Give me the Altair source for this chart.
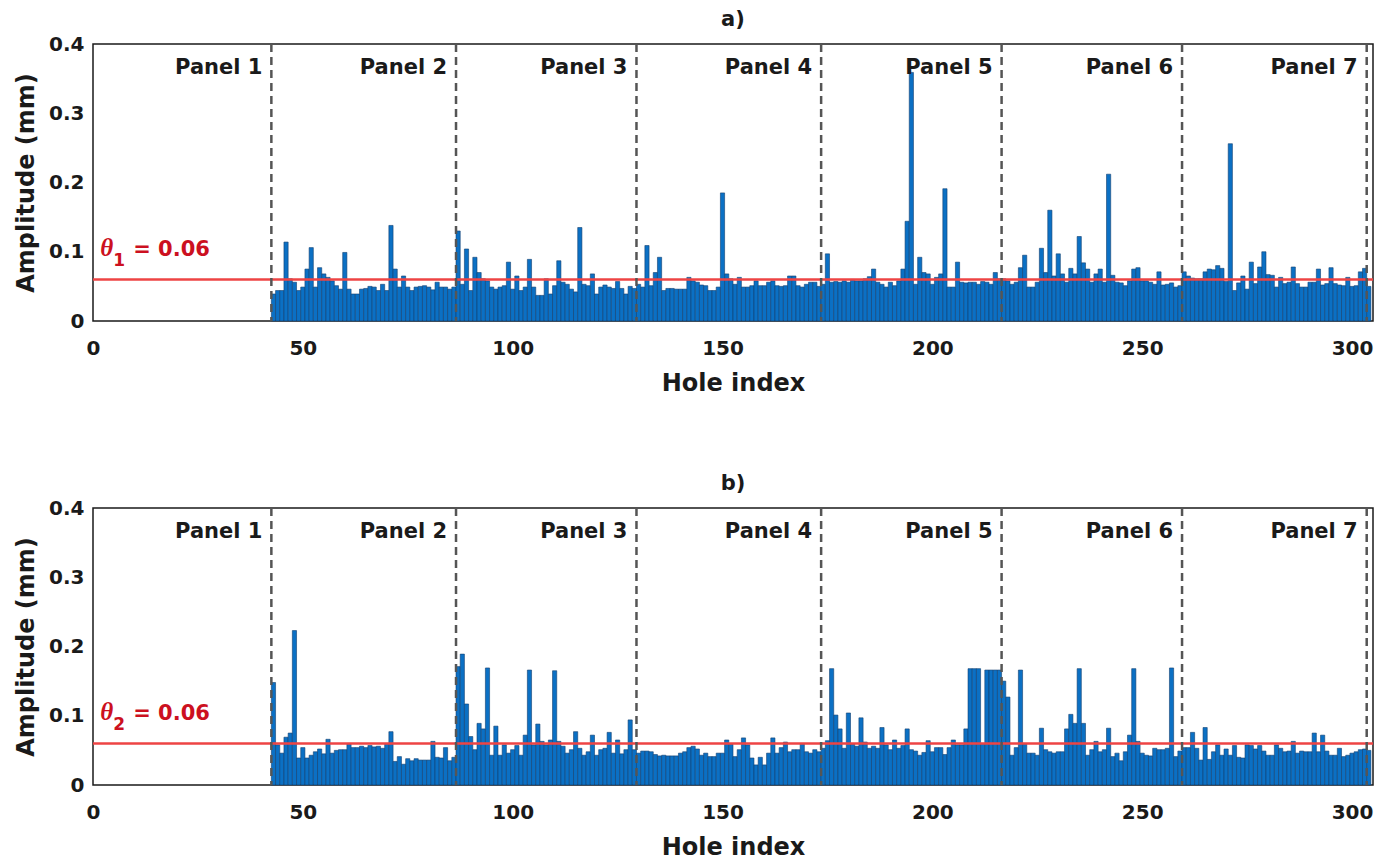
import altair as alt
import pandas as pd

# ---------------- data ----------------
first_hole = 43
# panel a) amplitudes, grouped by panel section
a_p2 = [0.039,0.044,0.044,0.114,0.061,0.056,0.044,0.049,0.075,0.106,0.049,0.077,0.068,0.063,0.058,0.051,0.046,0.099,0.046,0.039,0.039,0.046,0.047,0.050,0.049,0.044,0.053,0.044,0.138,0.075,0.049,0.065,0.049,0.044,0.049,0.050,0.051,0.049,0.045,0.056,0.049,0.049,0.046,0.049]
a_p3 = [0.130,0.053,0.104,0.044,0.092,0.070,0.061,0.058,0.049,0.046,0.049,0.051,0.085,0.046,0.065,0.044,0.049,0.089,0.049,0.037,0.037,0.061,0.039,0.051,0.087,0.056,0.053,0.046,0.042,0.135,0.053,0.051,0.068,0.039,0.049,0.052,0.049,0.047,0.057,0.047,0.039,0.050,0.047]
a_p4 = [0.053,0.049,0.109,0.051,0.070,0.092,0.044,0.047,0.047,0.046,0.046,0.046,0.063,0.058,0.056,0.052,0.051,0.044,0.044,0.049,0.185,0.068,0.061,0.053,0.063,0.049,0.049,0.051,0.058,0.051,0.051,0.056,0.058,0.051,0.050,0.051,0.065,0.065,0.051,0.049,0.053,0.056,0.056,0.050]
a_p5 = [0.053,0.097,0.056,0.057,0.056,0.058,0.056,0.060,0.058,0.058,0.061,0.064,0.075,0.056,0.053,0.049,0.056,0.051,0.058,0.075,0.144,0.359,0.053,0.092,0.070,0.068,0.053,0.063,0.068,0.191,0.049,0.049,0.085,0.056,0.055,0.056,0.056,0.053,0.057,0.056,0.053,0.070,0.061]
a_p6 = [0.061,0.058,0.053,0.056,0.077,0.095,0.049,0.049,0.056,0.105,0.070,0.160,0.065,0.097,0.068,0.056,0.076,0.068,0.122,0.084,0.075,0.056,0.068,0.075,0.056,0.212,0.066,0.056,0.055,0.051,0.058,0.075,0.077,0.058,0.058,0.056,0.053,0.071,0.052,0.053,0.055,0.049,0.051]
a_p7 = [0.071,0.065,0.062,0.061,0.061,0.071,0.075,0.074,0.080,0.076,0.057,0.256,0.044,0.055,0.065,0.046,0.085,0.054,0.078,0.100,0.067,0.066,0.049,0.063,0.054,0.056,0.078,0.054,0.049,0.049,0.056,0.056,0.075,0.052,0.054,0.077,0.054,0.052,0.051,0.063,0.050,0.051,0.071,0.076,0.050]

# panel b) amplitudes
b_p2 = [0.148,0.058,0.046,0.069,0.075,0.223,0.039,0.054,0.039,0.043,0.048,0.052,0.045,0.066,0.046,0.050,0.051,0.051,0.060,0.054,0.054,0.056,0.054,0.057,0.055,0.056,0.053,0.060,0.077,0.034,0.041,0.030,0.038,0.035,0.038,0.036,0.036,0.036,0.063,0.040,0.039,0.054,0.035,0.040]
b_p3 = [0.171,0.189,0.117,0.070,0.051,0.089,0.081,0.169,0.043,0.085,0.043,0.058,0.046,0.051,0.057,0.043,0.072,0.166,0.058,0.088,0.063,0.058,0.065,0.165,0.063,0.056,0.046,0.051,0.077,0.053,0.043,0.048,0.072,0.043,0.051,0.053,0.076,0.046,0.065,0.045,0.051,0.094,0.051]
b_p4 = [0.046,0.049,0.049,0.048,0.044,0.042,0.043,0.042,0.042,0.042,0.046,0.048,0.054,0.056,0.052,0.043,0.046,0.041,0.041,0.046,0.046,0.065,0.059,0.041,0.051,0.068,0.058,0.039,0.029,0.040,0.029,0.046,0.068,0.046,0.054,0.062,0.048,0.051,0.051,0.060,0.048,0.046,0.051,0.048]
b_p5 = [0.053,0.064,0.168,0.101,0.081,0.053,0.104,0.059,0.056,0.097,0.062,0.053,0.056,0.053,0.083,0.058,0.051,0.065,0.053,0.057,0.081,0.051,0.049,0.043,0.047,0.064,0.048,0.054,0.054,0.044,0.054,0.065,0.058,0.058,0.081,0.168,0.168,0.168,0.060,0.166,0.166,0.166,0.166]
b_p6 = [0.150,0.127,0.043,0.054,0.166,0.060,0.046,0.046,0.043,0.082,0.051,0.048,0.046,0.048,0.048,0.081,0.102,0.089,0.168,0.089,0.043,0.051,0.063,0.048,0.051,0.082,0.041,0.046,0.035,0.048,0.072,0.168,0.063,0.046,0.043,0.042,0.053,0.051,0.051,0.053,0.169,0.041,0.049]
b_p7 = [0.054,0.054,0.076,0.053,0.036,0.083,0.037,0.048,0.058,0.043,0.052,0.043,0.057,0.040,0.039,0.058,0.057,0.052,0.057,0.049,0.043,0.043,0.058,0.053,0.048,0.049,0.063,0.046,0.049,0.048,0.048,0.075,0.048,0.072,0.049,0.043,0.043,0.053,0.041,0.043,0.046,0.048,0.051,0.052,0.050]

panel_boundaries = [42.5, 86.5, 129.5, 173.5, 216.5, 259.5, 303.5]
panel_labels = ["Panel 1", "Panel 2", "Panel 3", "Panel 4", "Panel 5", "Panel 6", "Panel 7"]
threshold = 0.06
x_ticks = [0, 50, 100, 150, 200, 250, 300]
y_ticks = [0, 0.1, 0.2, 0.3, 0.4]
panel_label_y = 0.365
theta_label_x = 1.7
theta_label_y = 0.094

# ---------------- style ----------------
FONT = "DejaVu Sans"
BAR_FILL = "#0b70c4"
BAR_EDGE = "#123f70"
RED_LINE = "#ee4444"
RED_TEXT = "#cc1020"
DASH = "#555555"
INK = "#1a1a1a"


def make_panel(series, title, sub):
    amps = [v for part in series for v in part]
    df = pd.DataFrame({"hole": list(range(first_hole, first_hole + len(amps))), "amp": amps})
    bdf = pd.DataFrame({"b": panel_boundaries, "label": panel_labels})
    tdf = pd.DataFrame({"t": [threshold]})
    ldf = pd.DataFrame({"x": [theta_label_x], "y": [theta_label_y]})

    xscale = alt.Scale(domain=[0, 305], nice=False, zero=False)
    yscale = alt.Scale(domain=[0, 0.4], nice=False)

    xaxis = alt.Axis(values=x_ticks, title="Hole index", grid=False, ticks=False, domain=False,
                     labelFont=FONT, labelFontSize=20, labelFontWeight="bold", labelColor=INK,
                     labelPadding=17, titleFont=FONT, titleFontSize=24, titleFontWeight="bold",
                     titleColor=INK, titlePadding=13, labelFlush=False)
    yaxis = alt.Axis(values=y_ticks, title="Amplitude (mm)", grid=False, ticks=False, domain=False,
                     labelFont=FONT, labelFontSize=20, labelFontWeight="bold", labelColor=INK,
                     labelPadding=9, labelExpr="datum.value == 0 ? '0' : format(datum.value, '.1f')",
                     titleFont=FONT, titleFontSize=24, titleFontWeight="bold", titleColor=INK,
                     titlePadding=10)

    bars = alt.Chart(df).transform_calculate(
        lo="datum.hole - 0.5", hi="datum.hole + 0.5", base="0"
    ).mark_bar(fill=BAR_FILL, stroke=BAR_EDGE, strokeWidth=0.6).encode(
        x=alt.X("lo:Q", scale=xscale, axis=xaxis),
        x2="hi:Q",
        y=alt.Y("amp:Q", scale=yscale, axis=yaxis),
        y2="base:Q",
    )
    thr = alt.Chart(tdf).mark_rule(color=RED_LINE, strokeWidth=2.5).encode(
        y=alt.Y("t:Q", scale=yscale))
    dashes = alt.Chart(bdf).mark_rule(color=DASH, strokeWidth=2.5, strokeDash=[8, 5]).encode(
        x=alt.X("b:Q", scale=xscale))
    labels = alt.Chart(bdf).mark_text(align="right", baseline="middle", dx=-9, font=FONT,
                                      fontSize=21, fontWeight="bold", color=INK).encode(
        x=alt.X("b:Q", scale=xscale), y=alt.datum(panel_label_y), text="label:N")
    theta = alt.Chart(ldf).mark_text(align="left", baseline="alphabetic", font="Liberation Serif",
                                     fontStyle="italic", fontWeight="bold", fontSize=25,
                                     color=RED_TEXT, text="\u03b8").encode(
        x=alt.X("x:Q", scale=xscale), y=alt.Y("y:Q", scale=yscale))
    subs = alt.Chart(ldf).mark_text(align="left", baseline="alphabetic", font=FONT, dx=13, dy=10,
                                    fontWeight="bold", fontSize=17, color=RED_TEXT, text=sub).encode(
        x=alt.X("x:Q", scale=xscale), y=alt.Y("y:Q", scale=yscale))
    eq = alt.Chart(ldf).mark_text(align="left", baseline="alphabetic", font=FONT, dx=33,
                                  fontWeight="bold", fontSize=21, color=RED_TEXT, text="= 0.06").encode(
        x=alt.X("x:Q", scale=xscale), y=alt.Y("y:Q", scale=yscale))

    return alt.layer(bars, thr, dashes, labels, theta, subs, eq).properties(
        width=1280, height=277,
        title=alt.TitleParams(title, font=FONT, fontSize=21, fontWeight="bold", color=INK,
                              anchor="middle", offset=4),
    )


top = make_panel([a_p2, a_p3, a_p4, a_p5, a_p6, a_p7], "a)", "1")
bottom = make_panel([b_p2, b_p3, b_p4, b_p5, b_p6, b_p7], "b)", "2")

chart = alt.vconcat(top, bottom, spacing=187, bounds="flush").properties(
    padding={"left": 5, "top": 0, "right": 5, "bottom": 2}
).configure_view(stroke=INK, strokeWidth=1.5)

chart.save("out.html", embed_options={"renderer": "svg", "actions": False})
